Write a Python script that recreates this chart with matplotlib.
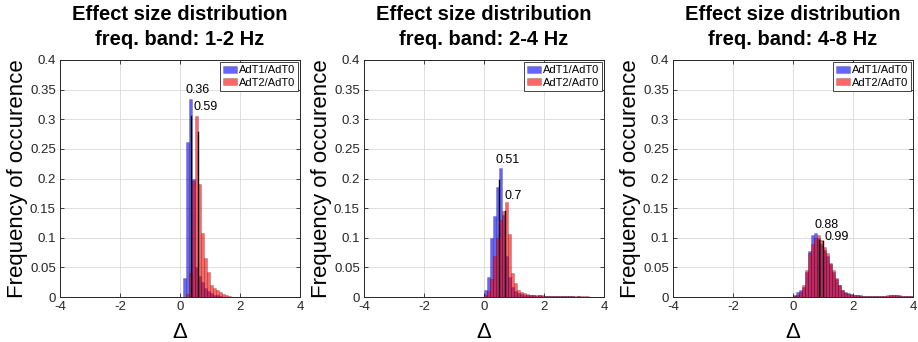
import numpy as np
from matplotlib import pyplot as plt

# --- Data ---
BIN_WIDTH = 0.1
bands = ["1-2 Hz", "2-4 Hz", "4-8 Hz"]
series_names = ["AdT1/AdT0", "AdT2/AdT0"]

# probability per bin, bins start at the given left edge and step by BIN_WIDTH
t1_start = [0.1, 0.0, 0.0]
t2_start = [0.2, 0.0, 0.0]

t1_band1 = [0.032, 0.262, 0.334, 0.200, 0.050, 0.035, 0.025, 0.015, 0.010,
            0.006, 0.004, 0.003, 0.002]
t2_band1 = [0.005, 0.040, 0.195, 0.305, 0.190, 0.108, 0.066, 0.043, 0.020,
            0.016, 0.012, 0.009, 0.005, 0.003, 0.002]

t1_band2 = [0.012, 0.034, 0.100, 0.136, 0.186, 0.217, 0.138, 0.070, 0.034,
            0.017, 0.010, 0.007, 0.005, 0.004, 0.004, 0.003, 0.003, 0.002,
            0.003, 0.002, 0.002, 0.002, 0.002, 0.001, 0.002, 0.001, 0.001,
            0.001, 0.001, 0.001, 0.000, 0.001]
t2_band2 = [0.004, 0.010, 0.030, 0.070, 0.100, 0.130, 0.145, 0.161, 0.107,
            0.040, 0.023, 0.012, 0.009, 0.007, 0.005, 0.004, 0.004, 0.003,
            0.003, 0.003, 0.002, 0.002, 0.002, 0.002, 0.001, 0.002, 0.001,
            0.001, 0.001, 0.001, 0.001, 0.001, 0.001, 0.001, 0.001]

t1_band3 = [0.003, 0.008, 0.012, 0.017, 0.043, 0.077, 0.105, 0.108, 0.100,
            0.090, 0.080, 0.070, 0.055, 0.042, 0.030, 0.020, 0.012, 0.008,
            0.006, 0.005, 0.004, 0.003, 0.003, 0.002, 0.002, 0.002, 0.002,
            0.001, 0.002, 0.002, 0.002, 0.002, 0.003, 0.004, 0.004, 0.003,
            0.002, 0.002, 0.001, 0.001]
t2_band3 = [0.002, 0.003, 0.009, 0.020, 0.046, 0.074, 0.090, 0.100, 0.105,
            0.096, 0.085, 0.074, 0.057, 0.045, 0.032, 0.020, 0.012, 0.007,
            0.005, 0.004, 0.003, 0.003, 0.002, 0.002, 0.002, 0.002, 0.001,
            0.002, 0.002, 0.002, 0.002, 0.003, 0.003, 0.003, 0.003, 0.002,
            0.002, 0.001, 0.001, 0.001]

t1_hist = [t1_band1, t1_band2, t1_band3]
t2_hist = [t2_band1, t2_band2, t2_band3]

# medians (vertical lines) and their drawn heights
medians = [[0.36, 0.59], [0.51, 0.70], [0.88, 0.99]]
median_tops = [[0.305, 0.278], [0.198, 0.145], [0.097, 0.094]]
median_labels = [["0.36", "0.59"], ["0.51", "0.7"], ["0.88", "0.99"]]

# --- Layout / style ---
label_x = [[0.20, 0.46], [0.40, 0.67], [0.71, 1.04]]
label_y = [[0.35, 0.32], [0.232, 0.17], [0.122, 0.101]]

plt.rcParams["font.family"] = ["Liberation Sans", "DejaVu Sans"]
DARK = (0.15, 0.15, 0.15)
FACE_ALPHA = 0.6

fig = plt.figure(figsize=(9.18, 3.42), dpi=100)
W, H = 918, 342
lefts = [60, 364, 673]
ax_w, ax_top, ax_bottom = 240, 60, 297


def draw_panel(ax, k):
    e1 = t1_start[k] + BIN_WIDTH * np.arange(len(t1_hist[k]))
    e2 = t2_start[k] + BIN_WIDTH * np.arange(len(t2_hist[k]))
    ax.bar(e1, t1_hist[k], width=BIN_WIDTH, align="edge",
           color=(0, 0, 1, FACE_ALPHA), edgecolor=(0, 0, 0, 0.25),
           linewidth=0.5, label=series_names[0], zorder=2)
    ax.bar(e2, t2_hist[k], width=BIN_WIDTH, align="edge",
           color=(1, 0, 0, FACE_ALPHA), edgecolor=(0, 0, 0, 0.25),
           linewidth=0.5, label=series_names[1], zorder=3)

    for m, top, txt, lx, ly in zip(medians[k], median_tops[k],
                                   median_labels[k], label_x[k], label_y[k]):
        ax.plot([m, m], [0, top], color="black", linewidth=1.0, zorder=4)
        ax.text(lx, ly, txt, fontsize=9, ha="left", va="center",
                color="black", zorder=5)

    ax.set_xlim(-4, 4)
    ax.set_ylim(0, 0.4)
    ax.set_xticks([-4, -2, 0, 2, 4])
    ax.set_xticklabels(["-4", "-2", "0", "2", "4"])
    yt = np.arange(0, 0.401, 0.05)
    ax.set_yticks(yt)
    ax.set_yticklabels(["0", "0.05", "0.1", "0.15", "0.2", "0.25",
                        "0.3", "0.35", "0.4"])
    ax.tick_params(direction="in", length=3, width=0.6, top=True, right=True,
                   labelsize=9.5, colors=DARK, pad=3)
    ax.grid(True, color=(0.85, 0.85, 0.85), linewidth=0.6, zorder=0)
    ax.set_axisbelow(True)
    for sp in ax.spines.values():
        sp.set_color(DARK)
        sp.set_linewidth(0.7)

    ax.set_ylabel("Frequency of occurence", fontsize=16, color="black")
    ax.yaxis.set_label_coords(-0.135, 0.5)
    ax.set_xlabel("Δ", fontsize=16, color="black")
    ax.xaxis.set_label_coords(0.5, -0.105)

    ax.set_title("Effect size distribution\nfreq. band: " + bands[k],
                 fontsize=14.5, fontweight="bold", pad=11, linespacing=1.4)

    leg = ax.legend(loc="upper right", fontsize=8, frameon=True, fancybox=False,
                    borderaxespad=0.2, borderpad=0.25, labelspacing=0.25,
                    handlelength=1.2, handleheight=0.6, handletextpad=0.2)
    leg.get_frame().set_edgecolor(DARK)
    leg.get_frame().set_linewidth(0.6)
    leg.get_frame().set_alpha(1.0)


for k in range(3):
    ax = fig.add_axes([lefts[k] / W, 1 - ax_bottom / H,
                       ax_w / W, (ax_bottom - ax_top) / H])
    draw_panel(ax, k)

fig.savefig("out.png", dpi=100)
